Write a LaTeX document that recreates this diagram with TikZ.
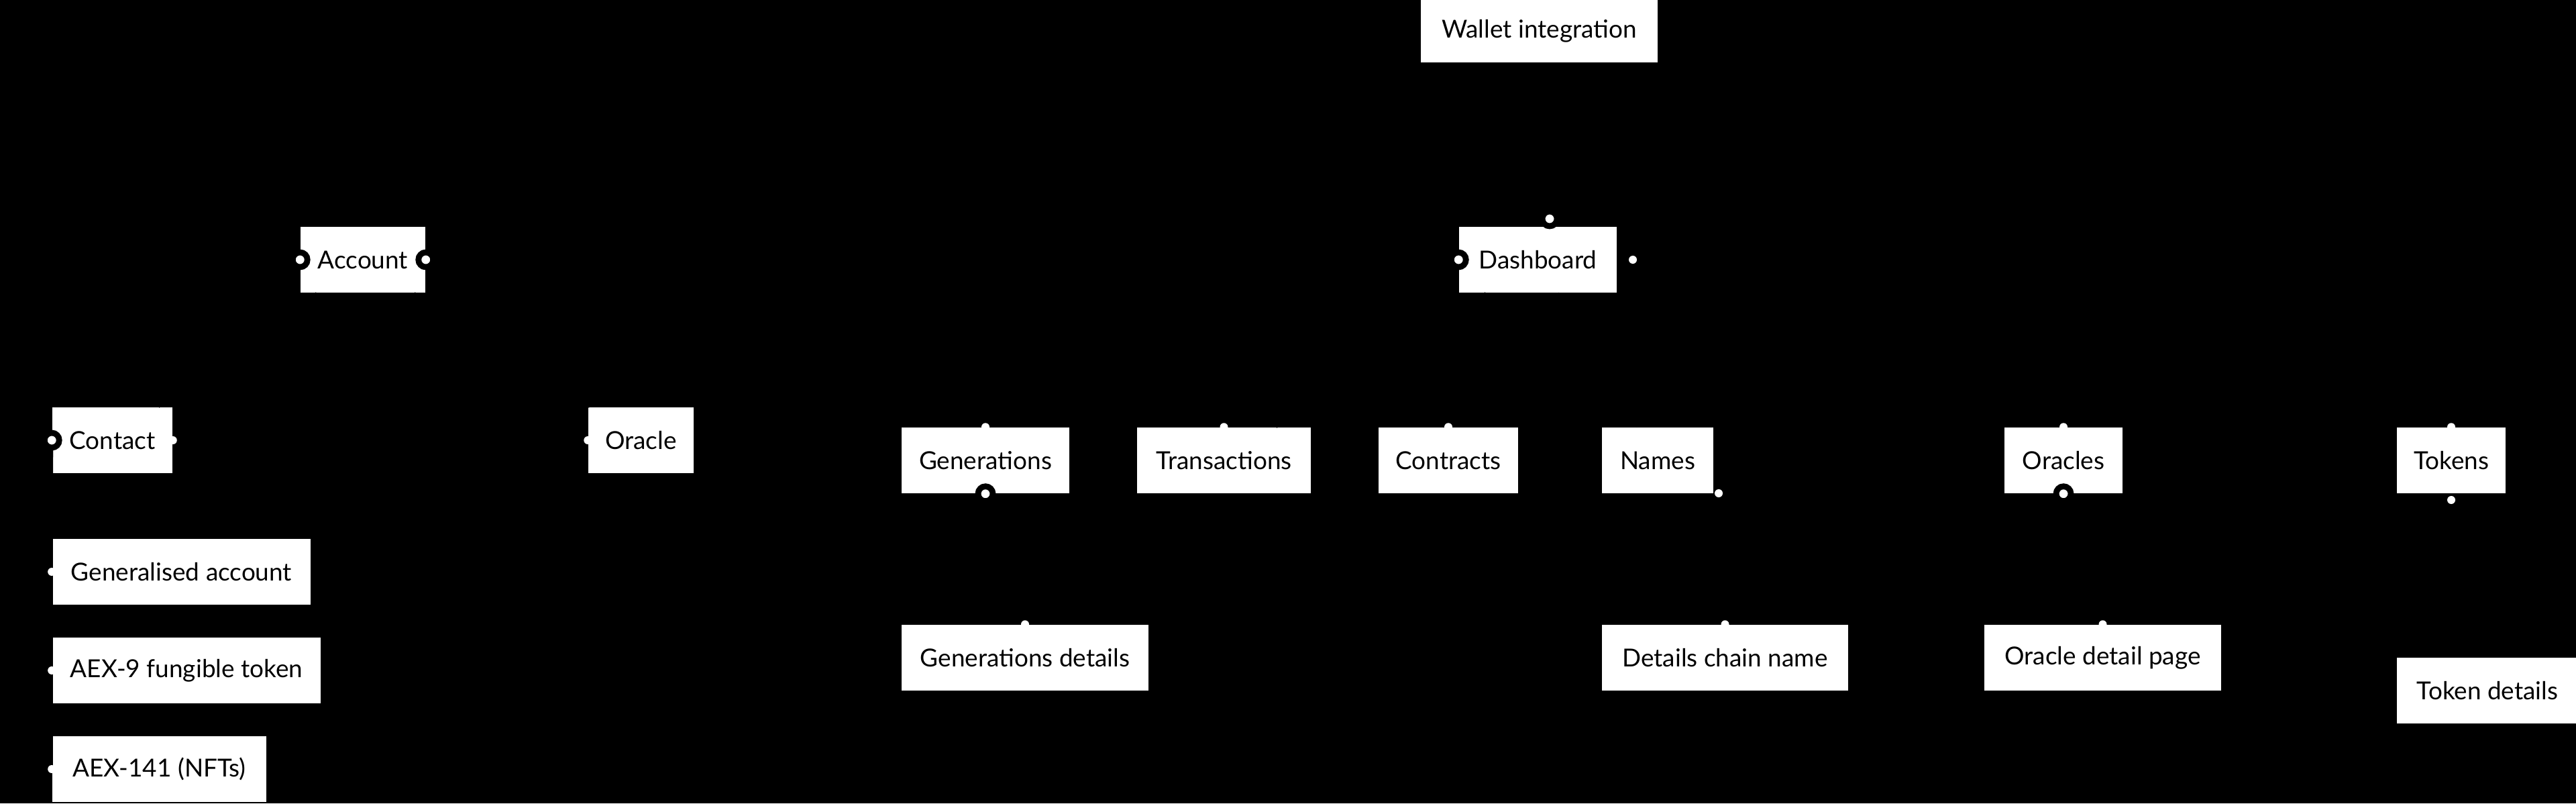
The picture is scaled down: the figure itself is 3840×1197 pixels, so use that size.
\documentclass[tikz,border=0pt]{standalone}
\usepackage{fontspec}
\setmainfont{Lato}
\usetikzlibrary{positioning}
\begin{document}
\begin{tikzpicture}[x=0.01cm,y=-0.01cm]
\tikzset{
  box/.style={fill=white, inner sep=0pt, minimum height=0.98cm, font=\fontsize{10.5}{12}\selectfont},
  link/.style={draw=black, line width=1pt},
  bigdot/.style={circle, fill=white, draw=black, line width=2.5pt, minimum size=0.22cm, inner sep=0pt},
  dot/.style={circle, fill=white, inner sep=0pt, minimum size=0.12cm}
}
\fill[black] (0,0) rectangle (3840,1197);
\useasboundingbox (0,0) rectangle (3840,1197);

% ======= top level =======
\node[box, minimum width=3.53cm, minimum height=0.93cm] (wallet) at (2294.5,46.5) {Wallet integration};
\node[box, minimum width=1.86cm] (account) at (541,387) {Account};
\node[box, minimum width=2.35cm] (dash) at (2292.5,387) {Dashboard};

% ======= account side =======
\node[box, minimum width=1.79cm] (contact) at (167.5,656) {Contact};
\node[box, minimum width=1.57cm] (oracle) at (955.5,656) {Oracle};
\node[box, minimum width=3.85cm] (gacc) at (270.5,852) {Generalised account};
\node[box, minimum width=4.00cm] (aex9) at (278,999) {AEX-9 fungible token};
\node[box, minimum width=3.19cm] (aex141) at (237.5,1146) {AEX-141 (NFTs)};

% ======= dashboard side =======
\node[box, minimum width=2.50cm] (gens) at (1469,686) {Generations};
\node[box, minimum width=2.59cm] (txs) at (1824.5,686) {Transactions};
\node[box, minimum width=2.08cm] (contracts) at (2159,686) {Contracts};
\node[box, minimum width=1.66cm] (names) at (2471,686) {Names};
\node[box, minimum width=1.76cm] (oracles) at (3076,686) {Oracles};
\node[box, minimum width=1.62cm] (tokens) at (3654,686) {Tokens};
\node[box, minimum width=3.68cm] (gendet) at (1528,980) {Generations details};
\node[box, minimum width=3.67cm] (namedet) at (2571.5,980) {Details chain name};
\node[box, minimum width=3.53cm] (oracledet) at (3134.5,980) {Oracle detail page};
\node[box, minimum width=2.70cm] (tokendet) at (3708,1029) {Token details};

% ======= connectors =======
\draw[link] (wallet) -- (account);
\draw[link] (wallet) -- (dash);
\foreach \n in {contact,oracle} \draw[link] (account) -- (\n);
\foreach \n in {gacc,aex9,aex141} \draw[link] (contact.west) -- (\n.west);
\foreach \n in {gens,txs,contracts,names,oracles,tokens} \draw[link] (dash) -- (\n);
\draw[link] (gens) -- (gendet);
\draw[link] (names) -- (namedet);
\draw[link] (oracles) -- (oracledet);
\draw[link] (tokens) -- (tokendet);

% ======= end points =======
\node[bigdot] at (account.west) {};
\node[bigdot] at (account.east) {};
\node[bigdot] at (dash.west) {};
\node[bigdot] at (2310,326) {};
\node[dot] at (2434,387) {};
\node[bigdot] at (contact.west) {};
\node[dot] at (contact.east) {};
\foreach \n in {gacc,aex9,aex141} \node[dot] at (\n.west) {};
\node[dot] at (oracle.west) {};
\node[dot] at (gens.north) {};
\node[bigdot] at (gens.south) {};
\node[dot] at (txs.north) {};
\node[dot] at (contracts.north) {};
\node[dot] at (2562,735) {};
\node[dot] at (oracles.north) {};
\node[bigdot] at (oracles.south) {};
\node[dot] at (tokens.north) {};
\node[dot] at (3654,745) {};
\node[dot] at (gendet.north) {};
\node[dot] at (namedet.north) {};
\node[dot] at (oracledet.north) {};
\end{tikzpicture}
\end{document}
